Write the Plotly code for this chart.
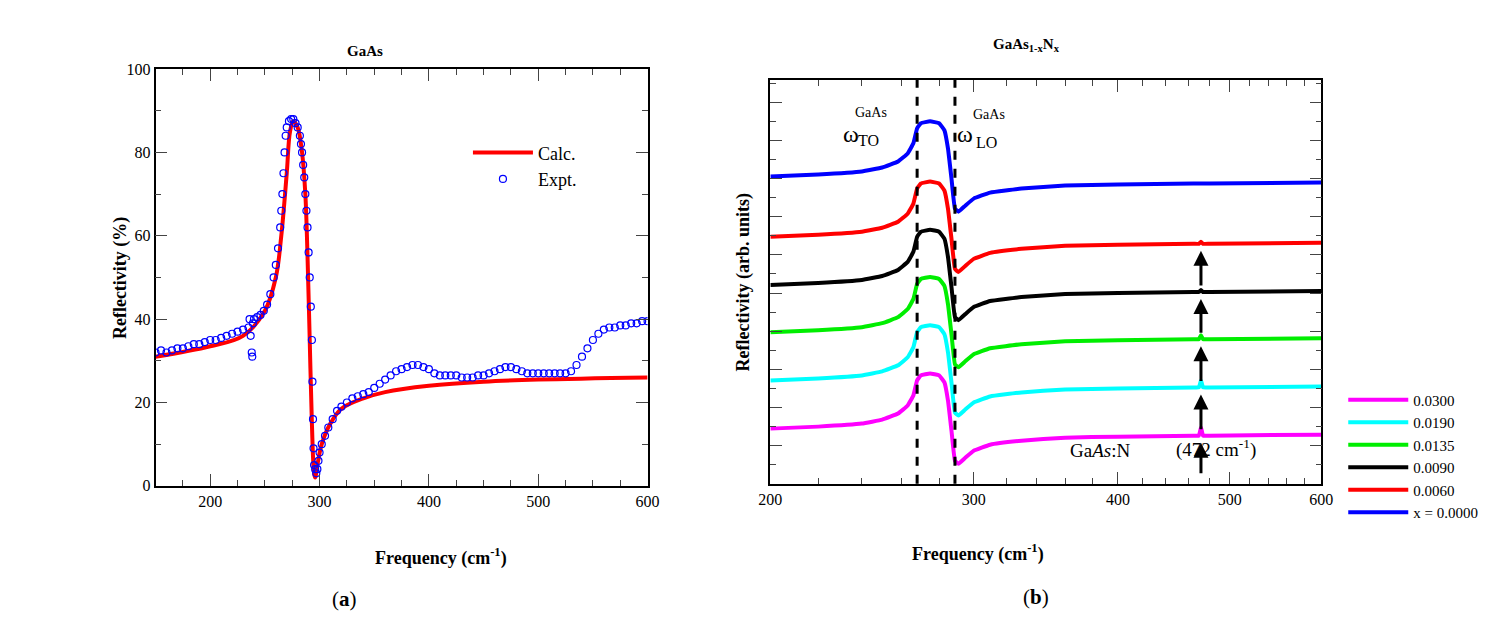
import math
import plotly.graph_objects as go

# ---- (a) GaAs: calculated and measured reflectivity (%)
calc_freq = [150, 200, 230, 250, 260, 265, 270, 273, 276, 280, 284, 287, 289, 291, 293, 295,
             296, 298, 302, 310, 320, 340, 360, 400, 450, 500, 600]
calc_refl = [31, 33.5, 36, 42, 50, 60, 75, 85, 87.5, 86, 80, 70, 55, 35, 15, 3,
             2, 5, 10, 15, 18.5, 21, 22.5, 24, 25, 25.5, 26]

expt_freq = [150, 155, 160, 165, 170, 175, 180, 185, 190, 195, 200, 205, 210, 215, 220, 225, 230, 235,
             236, 237, 238, 238.5, 239, 240, 243, 246, 249, 252, 255, 258, 260, 262, 264, 265, 266, 267,
             268, 269, 270, 272, 274, 276, 278, 280, 282, 283, 284, 285, 286, 287, 288, 289, 290, 291,
             292, 293, 293.5, 294, 294.5, 295, 296, 297, 298, 299, 300, 302, 305, 308, 312, 316, 320,
             325, 330, 335, 340, 345, 350, 355, 360, 365, 370, 375, 380, 385, 390, 395, 400, 405, 410,
             415, 420, 425, 430, 435, 440, 445, 450, 455, 460, 465, 470, 475, 480, 485, 490, 495, 500,
             505, 510, 515, 520, 525, 530, 535, 540, 545, 550, 555, 560, 565, 570, 575, 580, 585, 590,
             595, 600]
expt_refl = [32, 32.5, 32, 32.5, 33, 33, 33.5, 34, 34, 34.5, 35, 35, 35.5, 36, 36.5, 37, 37.5, 38,
             40, 36, 32, 31, 39, 40, 40.5, 41, 42, 43.5, 46, 50, 53, 57, 62, 66, 70, 75,
             80, 84, 86, 87.5, 88, 88, 87, 86, 84, 82, 80, 77, 74, 70, 66, 62, 56, 50,
             43, 35, 25, 16, 9, 5, 4, 3, 4, 6, 8, 10, 12, 14, 16, 18, 19,
             20, 21, 21.5, 22, 22.5, 23.5, 24.5, 25.5, 26.5, 27.5, 28, 28.5, 29, 29, 28.5, 28, 27, 26.5,
             26.5, 26.5, 26.5, 26, 26, 26, 26.5, 26.5, 27, 27.5, 28, 28.5, 28.5, 28, 27.5, 27, 27, 27,
             27, 27, 27, 27, 27, 27.5, 29, 31, 33, 35, 36.5, 37.5, 38, 38, 38.5, 38.5, 39, 39,
             39.5, 39.5]

# ---- (b) GaAs(1-x)N(x): shifted reflectivity curves (arb. units)
alloy_freq = [200, 220, 240, 250, 258, 263, 266, 268, 270, 275, 280, 283, 285, 287, 289, 291,
              295, 300, 310, 330, 360, 400, 465, 470, 472, 474, 480, 600]
alloy_shape = [55, 57, 60, 64, 70, 78, 88, 103, 108, 110, 108, 101, 83, 53, 23, 20,
               26, 33, 39, 43, 46, 47, 48, 48, 48, 48, 48, 49]
compositions = ['0.0300', '0.0190', '0.0135', '0.0090', '0.0060', 'x = 0.0000']
colors = ['#ff00ff', '#00ffff', '#00ee00', '#000000', '#ff0000', '#0000ff']
offsets = [0, 48, 96, 143, 191, 251]
n_peak = [8, 7, 4, 2, 2, 0]   # local N mode at 472 cm-1
to_freq, lo_freq, n_freq = 268, 289, 472

W, H = 1510, 637
FONT = 'Liberation Serif'


# the page comes out slightly shrunk/shifted; map reference pixels to figure fractions
def fx(x):
    return (x - 19.2) / 0.986 / W


def fy(y):
    return 1 - (y - 17.2) / 0.969 / H


fig = go.Figure()

fig.add_trace(go.Scatter(x=calc_freq, y=calc_refl, mode='lines', name='Calc.',
                         line=dict(color='#ff0000', width=4, shape='spline'), legend='legend'))
fig.add_trace(go.Scatter(x=expt_freq, y=expt_refl, mode='markers', name='Expt.',
                         marker=dict(symbol='circle-open', color='#0000ff', size=7, line=dict(width=1.2)),
                         legend='legend'))

for comp, col, off, pk in zip(compositions, colors, offsets, n_peak):
    ys = [v + off for v in alloy_shape]
    ys[alloy_freq.index(n_freq)] += pk
    fig.add_trace(go.Scatter(x=alloy_freq, y=ys, mode='lines', name=comp, xaxis='x2', yaxis='y2',
                             line=dict(color=col, width=4, shape='spline', smoothing=0.3), legend='legend2'))

axis_common = dict(showline=True, linecolor='black', linewidth=1.5, mirror='ticks', ticks='inside',
                   showgrid=False, zeroline=False, tickfont=dict(family=FONT, size=16, color='black'))

fig.update_layout(
    width=W, height=H, margin=dict(l=0, r=0, t=0, b=0),
    paper_bgcolor='white', plot_bgcolor='white',
    font=dict(family=FONT, color='black'),
    xaxis=dict(domain=[fx(155), fx(648)], range=[150, 600], dtick=100, ticklen=12,
               minor=dict(dtick=25, ticklen=6, ticks='inside'), **axis_common),
    yaxis=dict(domain=[fy(485), fy(70)], range=[0, 100], dtick=20, ticklen=12,
               minor=dict(dtick=10, ticklen=6, ticks='inside'), **axis_common),
    xaxis2=dict(domain=[fx(771), fx(1323)], type='log', range=[math.log10(200), math.log10(600)], anchor='y2',
                tickvals=[200, 300, 400, 500, 600], ticklen=12,
                minor=dict(tickvals=[220, 240, 260, 280, 320, 340, 360, 380, 420, 440, 460, 480, 520, 540,
                                     560, 580], ticklen=6, ticks='inside'), **axis_common),
    yaxis2=dict(domain=[fy(483), fy(81)], range=[0, 402], anchor='x2', showticklabels=False,
                dtick=38, ticklen=12, minor=dict(dtick=19, ticklen=6, ticks='inside'), **axis_common),
    legend=dict(x=fx(468), y=fy(135), xanchor='left', yanchor='top', bgcolor='rgba(0,0,0,0)',
                font=dict(family=FONT, size=18, color='black'), itemwidth=60),
    legend2=dict(x=fx(1345), y=fy(383), xanchor='left', yanchor='top', traceorder='normal',
                 bgcolor='rgba(0,0,0,0)', font=dict(family=FONT, size=15, color='black'), itemwidth=60,
                 tracegroupgap=0),
)

for f in (to_freq, lo_freq):
    fig.add_shape(type='line', xref='x2', yref='y2 domain', x0=f, x1=f, y0=0, y1=1,
                  line=dict(color='black', width=3, dash='dash'))

# arrows pointing up through the 472 cm-1 mode (log axis -> log10 coordinates)
lx = math.log10(n_freq)
base472 = alloy_shape[alloy_freq.index(n_freq)]
levels = [base472 + o for o in offsets[:5]]
tails = [levels[0] - 44] + levels[:4]
for lo, hi in zip(tails, levels):
    fig.add_annotation(x=lx, y=hi - 7, ax=lx, ay=lo + 5, xref='x2', yref='y2', axref='x2', ayref='y2',
                       showarrow=True, arrowhead=2, arrowsize=1, arrowwidth=3, arrowcolor='black', text='')

texts = [
    (345, 42, '<b>GaAs</b>', 15), (1063, 35, '<b>GaAs<sub>1-x</sub>N<sub>x</sub></b>', 15),
    (373, 570, '<b>Frequency (cm<sup>-1</sup>)</b>', 18), (1047, 566, '<b>Frequency (cm<sup>-1</sup>)</b>', 18),
    (330, 612, '(<b>a</b>)', 21), (1052, 610, '(<b>b</b>)', 21),
    (852, 120, 'ω', 24), (872, 104, 'GaAs', 14), (869, 131, 'TO', 16),
    (966, 120, 'ω', 24), (990, 106, 'GaAs', 14), (988, 133, 'LO', 16),
    (1133, 462, 'Ga<i>As</i>:N', 19), (1260, 462, '(472 cm<sup>-1</sup>)', 19),
]
for x, y, t, s in texts:
    fig.add_annotation(x=fx(x), y=fy(y), xref='paper', yref='paper', text=t, showarrow=False,
                       font=dict(family=FONT, size=s, color='black'))

for x, y, t in [(108, 278, '<b>Reflectivity (%)</b>'), (745, 282, '<b>Reflectivity (arb. units)</b>')]:
    fig.add_annotation(x=fx(x), y=fy(y), xref='paper', yref='paper', text=t, textangle=-90, showarrow=False,
                       font=dict(family=FONT, size=18, color='black'))

fig.write_html('out.html')
